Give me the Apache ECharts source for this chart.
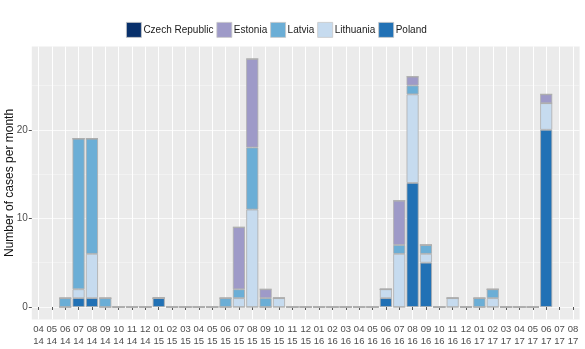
<!DOCTYPE html>
<html><head><meta charset="utf-8">
<script src="https://cdn.jsdelivr.net/npm/echarts@6/dist/echarts.min.js"></script>
<style>html,body{margin:0;padding:0;background:#fff}#c{width:585px;height:349px}</style>
</head><body><div id="c"></div>
<script>
const months = ['04\n14','05\n14','06\n14','07\n14','08\n14','09\n14','10\n14','11\n14','12\n14',
  '01\n15','02\n15','03\n15','04\n15','05\n15','06\n15','07\n15','08\n15','09\n15','10\n15','11\n15','12\n15',
  '01\n16','02\n16','03\n16','04\n16','05\n16','06\n16','07\n16','08\n16','09\n16','10\n16','11\n16','12\n16',
  '01\n17','02\n17','03\n17','04\n17','05\n17','06\n17','07\n17','08\n17'];
const countries = ['Czech Republic','Estonia','Latvia','Lithuania','Poland'];
const _ = null;
const poland    = [_,_,0,1,1,0,0,0,0,1,0,0,0,0,0,0,0,0,0,0,0,0,0,0,0,0,1,0,14,5,0,0,0,0,0,0,0,0,20,_,_];
const lithuania = [_,_,0,1,5,0,0,0,0,0,0,0,0,0,0,1,11,0,1,0,0,0,0,0,0,0,1,6,10,1,0,1,0,0,1,0,0,0,3,_,_];
const latvia    = [_,_,1,17,13,1,0,0,0,0,0,0,0,0,1,1,7,1,0,0,0,0,0,0,0,0,0,1,1,1,0,0,0,1,1,0,0,0,0,_,_];
const estonia   = [_,_,0,0,0,0,0,0,0,0,0,0,0,0,0,7,10,1,0,0,0,0,0,0,0,0,0,5,1,0,0,0,0,0,0,0,0,0,1,_,_];
const czech     = [_,_,0,0,0,0,0,0,0,0,0,0,0,0,0,0,0,0,0,0,0,0,0,0,0,0,0,0,0,0,0,0,0,0,0,0,0,0,0,_,_];
const yTicks = [0,10,20];

const colors = {'Czech Republic':'#08306B','Estonia':'#9E9AC8','Latvia':'#6BAED6','Lithuania':'#C6DBEF','Poland':'#2171B5'};
const FONT = "'Liberation Sans',Arial,sans-serif";
const stackOrder = [['Poland',poland],['Lithuania',lithuania],['Latvia',latvia],['Estonia',estonia],['Czech Republic',czech]];

const chart = echarts.init(document.getElementById('c'), null, {renderer:'canvas'});
chart.setOption({
  animation:false,
  textStyle:{fontFamily:FONT},
  legend:{data:countries, left:126, top:22, padding:0, itemWidth:15, itemHeight:15, itemGap:3, icon:'rect',
    itemStyle:{borderColor:'#c8c8c8', borderWidth:0.8},
    textStyle:{fontSize:10, color:'#1a1a1a', fontFamily:FONT, padding:[0,0,0,-3]}},
  grid:{left:31.8, right:5.4, top:46.5, bottom:29.6, show:true, backgroundColor:'#EBEBEB', borderWidth:0,
    containLabel:false, outerBoundsMode:'none'},
  xAxis:{type:'category', data:months, boundaryGap:true,
    axisLine:{show:false},
    axisTick:{show:true, interval:0, alignWithLabel:true, length:3, lineStyle:{color:'#555'}},
    axisLabel:{interval:0, fontSize:9.5, lineHeight:12, color:'#4D4D4D', margin:4, fontFamily:FONT},
    splitLine:{show:true, interval:0, alignWithLabel:true, lineStyle:{color:'#ffffff', width:1}}
  },
  yAxis:[{type:'value', min:-1.4, max:29.4, splitNumber:3,
    name:'Number of cases per month', nameLocation:'middle', nameGap:16, nameMoveOverlap:false,
    nameTextStyle:{fontSize:12, color:'#111', fontFamily:FONT},
    axisLine:{show:false},
    axisTick:{show:true, customValues:yTicks, length:3, lineStyle:{color:'#555'}},
    axisLabel:{customValues:yTicks, fontSize:10, color:'#4D4D4D', margin:4, fontFamily:FONT},
    splitLine:{show:true, lineStyle:{color:'#ffffff', width:1.2}}
  },{type:'value', min:-1.4, max:29.4, splitNumber:6, position:'left',
    axisLine:{show:false}, axisTick:{show:false}, axisLabel:{show:false},
    splitLine:{show:true, lineStyle:{color:'#f7f7f7', width:0.6}}
  }],
  series: stackOrder.map(([name, vals]) => ({
    name, type:'bar', stack:'total', data:vals, barWidth:'90%',
    itemStyle:{color:colors[name], borderColor:'#adadad', borderWidth:0.8}
  }))
});
</script></body></html>
